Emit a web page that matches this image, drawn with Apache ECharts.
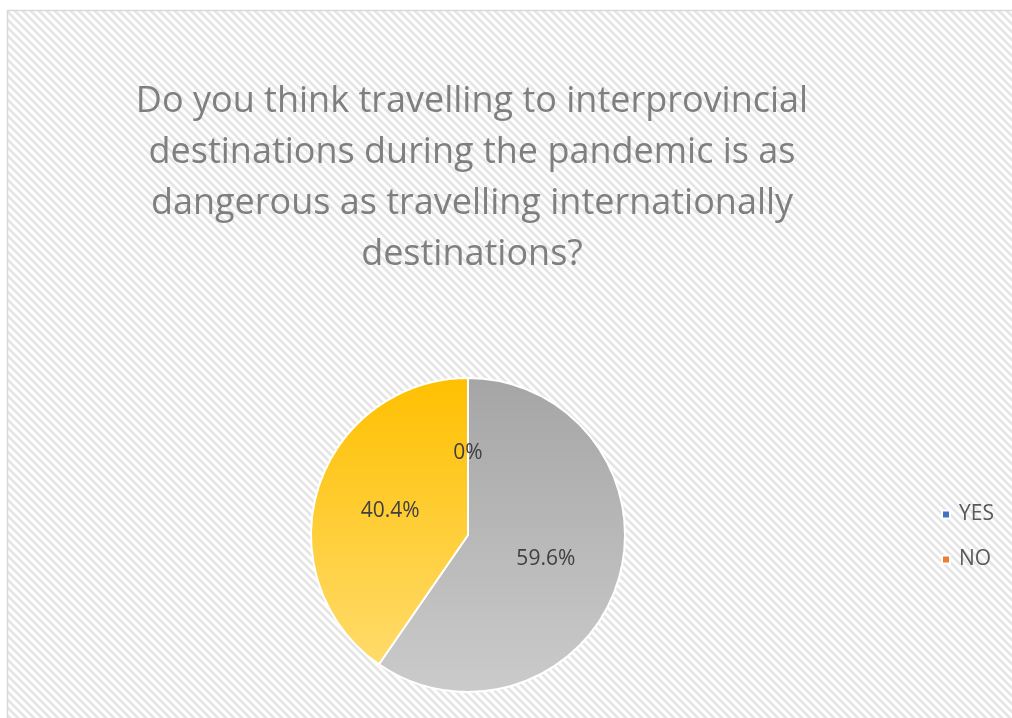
<!DOCTYPE html>
<html>
<head>
<meta charset="utf-8">
<script src="https://cdn.jsdelivr.net/npm/echarts@6/dist/echarts.min.js"></script>
<style>
  html, body { margin: 0; padding: 0; background: #fff; }
  #chart { width: 1012px; height: 718px; }
</style>
</head>
<body>
<div id="chart"></div>
<script>
// Survey answers (percent of respondents)
const titleLines = [
  'Do you think travelling to interprovincial',
  'destinations during the pandemic is as',
  'dangerous as travelling internationally',
  'destinations?'
];
const categories = ['YES', 'NO', 'Series 3', 'Series 4'];
const values = [0, 0, 59.6, 40.4];
const legendItems = ['YES', 'NO'];

// Diagonal hatch tile for the chart area background
function hatchTile() {
  const size = 8;
  const shade = [255, 255, 244, 230, 228, 230, 244, 255];
  const c = document.createElement('canvas');
  c.width = size; c.height = size;
  const ctx = c.getContext('2d');
  const img = ctx.createImageData(size, size);
  for (let y = 0; y < size; y++) {
    for (let x = 0; x < size; x++) {
      const k = ((x - y) % size + size) % size;
      const v = shade[k];
      const i = (y * size + x) * 4;
      img.data[i] = v; img.data[i + 1] = v; img.data[i + 2] = v; img.data[i + 3] = 255;
    }
  }
  ctx.putImageData(img, 0, 0);
  return c;
}

function grad(top, bottom) {
  return new echarts.graphic.LinearGradient(0, 0, 0, 1, [
    { offset: 0, color: top },
    { offset: 1, color: bottom }
  ]);
}

const fills = [
  '#4472C4',
  '#ED7D31',
  grad('#A5A5A5', '#CBCBCB'),
  grad('#FFC000', '#FFDB6B')
];
const legendColors = ['#4472C4', '#ED7D31', '#A5A5A5', '#FFC000'];

const chart = echarts.init(document.getElementById('chart'), null, { renderer: 'canvas' });

chart.setOption({
  backgroundColor: '#fff',
  animation: false,
  color: legendColors,
  graphic: [{
    type: 'rect',
    z: -10,
    silent: true,
    shape: { x: 7.5, y: 10.5, width: 1020, height: 720 },
    style: {
      fill: { image: hatchTile(), repeat: 'repeat' },
      stroke: '#D9D9D9',
      lineWidth: 1.5
    }
  }],
  title: {
    text: titleLines.join('\n'),
    left: 467,
    top: 71,
    textAlign: 'center',
    textStyle: {
      fontFamily: 'Open Sans',
      fontSize: 36,
      fontWeight: 'normal',
      color: '#7F7F7F',
      lineHeight: 51
    }
  },
  legend: {
    data: legendItems,
    orient: 'vertical',
    left: 936,
    top: 499,
    itemWidth: 8,
    itemHeight: 8,
    itemGap: 24,
    icon: 'rect',
    textStyle: {
      fontFamily: 'Open Sans',
      fontSize: 21,
      color: '#595959',
      padding: [0, 0, 0, 4]
    }
  },
  series: [{
    type: 'pie',
    center: [468, 535],
    radius: 157,
    startAngle: 90,
    clockwise: true,
    avoidLabelOverlap: false,
    label: {
      show: true,
      position: 'inside',
      formatter: p => p.value + '%',
      fontFamily: 'Open Sans',
      fontSize: 21,
      color: '#404040'
    },
    labelLine: { show: false },
    itemStyle: { borderColor: '#ffffff', borderWidth: 2 },
    emphasis: { disabled: true },
    data: categories.map((name, i) => ({
      name: name,
      value: values[i],
      itemStyle: { color: fills[i] }
    }))
  }]
});
</script>
</body>
</html>
